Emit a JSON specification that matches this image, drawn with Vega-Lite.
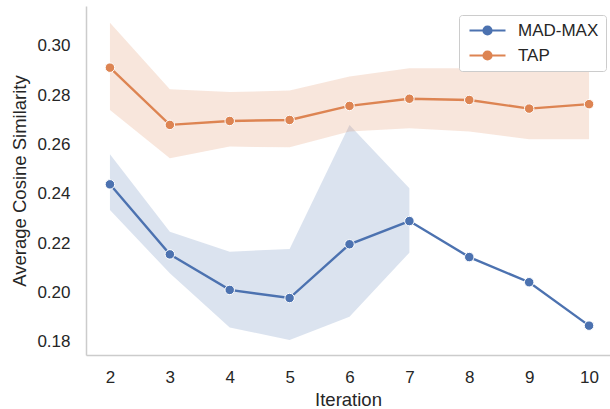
{
  "$schema": "https://vega.github.io/schema/vega-lite/v6.json",
  "width": 524,
  "height": 349,
  "autosize": {"type": "none"},
  "padding": {"left": 86, "top": 6, "right": 0, "bottom": 54},
  "background": "white",
  "config": {
    "font": "Liberation Sans",
    "view": {"stroke": null},
    "axis": {
      "grid": false,
      "ticks": false,
      "tickSize": 0,
      "domainColor": "#cccccc",
      "domainWidth": 1.5,
      "labelColor": "#262626",
      "titleColor": "#262626",
      "labelFontSize": 17,
      "titleFontSize": 18.5,
      "titleFontWeight": "normal",
      "labelFont": "Liberation Sans",
      "titleFont": "Liberation Sans"
    },
    "legend": {
      "labelFont": "Liberation Sans",
      "labelFontSize": 17,
      "labelColor": "#262626"
    }
  },
  "data": {
    "values": [
      {"iteration": 2, "method": "MAD-MAX", "mean": 0.2439, "lo": 0.2335, "hi": 0.2561},
      {"iteration": 3, "method": "MAD-MAX", "mean": 0.2155, "lo": 0.2078, "hi": 0.2247},
      {"iteration": 4, "method": "MAD-MAX", "mean": 0.2011, "lo": 0.1859, "hi": 0.2166},
      {"iteration": 5, "method": "MAD-MAX", "mean": 0.1978, "lo": 0.1808, "hi": 0.2177},
      {"iteration": 6, "method": "MAD-MAX", "mean": 0.2196, "lo": 0.1902, "hi": 0.2680},
      {"iteration": 7, "method": "MAD-MAX", "mean": 0.2290, "lo": 0.2162, "hi": 0.2423},
      {"iteration": 8, "method": "MAD-MAX", "mean": 0.2144, "lo": null, "hi": null},
      {"iteration": 9, "method": "MAD-MAX", "mean": 0.2042, "lo": null, "hi": null},
      {"iteration": 10, "method": "MAD-MAX", "mean": 0.1866, "lo": null, "hi": null},
      {"iteration": 2, "method": "TAP", "mean": 0.2912, "lo": 0.2740, "hi": 0.3094},
      {"iteration": 3, "method": "TAP", "mean": 0.2680, "lo": 0.2545, "hi": 0.2824},
      {"iteration": 4, "method": "TAP", "mean": 0.2696, "lo": 0.2592, "hi": 0.2813},
      {"iteration": 5, "method": "TAP", "mean": 0.2700, "lo": 0.2589, "hi": 0.2819},
      {"iteration": 6, "method": "TAP", "mean": 0.2757, "lo": 0.2653, "hi": 0.2876},
      {"iteration": 7, "method": "TAP", "mean": 0.2786, "lo": 0.2666, "hi": 0.2910},
      {"iteration": 8, "method": "TAP", "mean": 0.2781, "lo": 0.2653, "hi": 0.2910},
      {"iteration": 9, "method": "TAP", "mean": 0.2746, "lo": 0.2622, "hi": 0.2905},
      {"iteration": 10, "method": "TAP", "mean": 0.2764, "lo": 0.2622, "hi": 0.2912}
    ]
  },
  "encoding": {
    "x": {
      "field": "iteration",
      "type": "quantitative",
      "title": "Iteration",
      "scale": {"domain": [1.6, 10.35], "nice": false, "zero": false},
      "axis": {"values": [2, 3, 4, 5, 6, 7, 8, 9, 10], "format": "d", "labelPadding": 14, "titlePadding": 5}
    },
    "color": {
      "field": "method",
      "type": "nominal",
      "scale": {"domain": ["MAD-MAX", "TAP"], "range": ["#4C72B0", "#DD8452"]},
      "legend": {
        "orient": "none",
        "legendX": 373,
        "legendY": 9,
        "title": null,
        "symbolType": "M-3.6,0H3.6M-0.8,0A0.8,0.8 0 1,0 0.8,0A0.8,0.8 0 1,0 -0.8,0",
        "symbolSize": 100,
        "symbolStrokeWidth": 2.2,
        "symbolOpacity": 1,
        "fillColor": "white",
        "strokeColor": "#cccccc",
        "cornerRadius": 3,
        "padding": 7,
        "rowPadding": 7,
        "symbolOffset": 13,
        "labelOffset": 22,
        "encode": {
          "symbols": {
            "update": {
              "fill": {"scale": "color", "field": "value"},
              "stroke": {"scale": "color", "field": "value"},
              "opacity": {"value": 1},
              "fillOpacity": {"value": 1},
              "strokeOpacity": {"value": 1}
            }
          }
        }
      }
    }
  },
  "layer": [
    {
      "mark": {"type": "area", "opacity": 0.2},
      "encoding": {
        "y": {
          "field": "lo",
          "type": "quantitative",
          "title": "Average Cosine Similarity",
          "scale": {"domain": [0.1747, 0.3162], "nice": false, "zero": false},
          "axis": {"values": [0.18, 0.2, 0.22, 0.24, 0.26, 0.28, 0.3], "format": ".2f", "labelPadding": 16, "titlePadding": 7}
        },
        "y2": {"field": "hi"}
      }
    },
    {
      "mark": {"type": "line", "strokeWidth": 2.4},
      "encoding": {
        "y": {"field": "mean", "type": "quantitative", "title": "Average Cosine Similarity"}
      }
    },
    {
      "mark": {"type": "point", "filled": true, "size": 90, "stroke": "white", "strokeWidth": 1, "opacity": 1},
      "encoding": {
        "y": {"field": "mean", "type": "quantitative", "title": "Average Cosine Similarity"}
      }
    }
  ]
}
